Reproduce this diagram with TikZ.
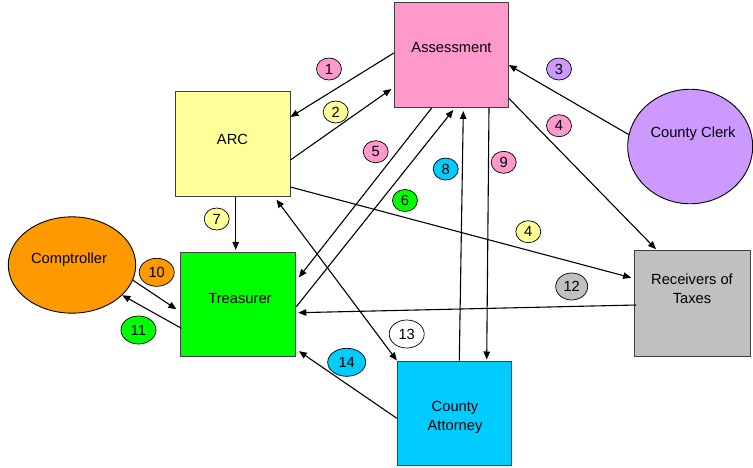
\documentclass[tikz,border=0pt]{standalone}
\usepackage{fontspec}
\setmainfont{Liberation Sans}
\usetikzlibrary{arrows.meta,shapes.geometric}
\definecolor{cpink}{HTML}{FF99CC}
\definecolor{cyellow}{HTML}{FFFF99}
\definecolor{cgreen}{HTML}{00FF00}
\definecolor{corange}{HTML}{FF9900}
\definecolor{ccyan}{HTML}{00CCFF}
\definecolor{cgray}{HTML}{C0C0C0}
\definecolor{cpurple}{HTML}{CC99FF}
\tikzset{
  txt/.style={font=\fontsize{14.7}{19}\selectfont},
  office/.style={draw=black!75, line width=0.9pt, rectangle, inner sep=0pt,
    minimum width=115pt, minimum height=105pt},
  party/.style={draw=black, line width=0.9pt, ellipse, inner sep=0pt},
  tag/.style={draw=black, line width=0.7pt, ellipse, inner sep=0pt,
    minimum width=25pt, minimum height=22pt, txt},
  wide/.style={minimum width=35pt, minimum height=28pt},
  flow/.style={line width=1.1pt, -{Triangle[length=8pt,width=6.5pt]}},
  both/.style={line width=1.1pt, {Triangle[length=8pt,width=6.5pt]}-{Triangle[length=8pt,width=6.5pt]}}
}
\begin{document}
\begin{tikzpicture}[x=1pt,y=-1pt]
\useasboundingbox (0,0) rectangle (753,467);

% offices
\node[office, fill=cpink, minimum width=114pt] (assess) at (451.3,55)
  {}; \node[txt] (assessT) at (451.5,48) {Assessment};
\node[office, fill=cyellow] (arc) at (232.5,144.2) {};
\node[txt] (arcT) at (232.5,139) {ARC};
\node[office, fill=cgreen, minimum width=115.7pt, minimum height=104.4pt] (treas) at (238,304.5) {};
\node[txt] (treasT) at (240,299) {Treasurer};
\node[office, fill=ccyan, minimum width=114pt, minimum height=104.7pt] (atty) at (454.3,413.3) {};
\node[txt, align=center] (attyT) at (455,417.5) {County\\Attorney};
\node[office, fill=cgray, minimum width=115.3pt, minimum height=105.3pt] (recv) at (692.3,303.3) {};
\node[txt, align=center] (recvT) at (692,288.5) {Receivers of\\Taxes};

% outside parties
\node[party, fill=corange, minimum width=127.4pt, minimum height=96.3pt] (comp) at (72,265) {};
\node[txt] (compT) at (69,260) {Comptroller};
\node[party, fill=cpurple, minimum width=125pt, minimum height=114.5pt] (clerk) at (690.2,146.5) {};
\node[txt] (clerkT) at (693,134) {County Clerk};

% flows
\draw[flow] ([yshift=2pt]assess.west) -- ([yshift=27.2pt]arc.east);
\draw[flow] ([yshift=-15.8pt]arc.east) -- ([xshift=-2.5pt,yshift=-34pt]assess.west);
\draw[flow] (clerk.169) -- ([yshift=-10pt]assess.east);
\draw[flow] ([yshift=-43.3pt]assess.east) -- ([xshift=-36.3pt,yshift=1pt]recv.north);
\draw[flow] ([yshift=-42.8pt]arc.east) -- ([xshift=-3pt,yshift=25.6pt]recv.west);
\draw[flow] ([xshift=2pt,yshift=-1.7pt]recv.west) -- ([xshift=2pt,yshift=-8.2pt]treas.east);
\draw[flow] ([xshift=-19.6pt]assess.south) -- ([xshift=2.6pt,yshift=27.2pt]treas.east);
\draw[flow] ([yshift=-2.2pt]treas.east) -- ([xshift=2pt,yshift=-2pt]assess.south);
\draw[flow] ([xshift=5pt]atty.north) -- ([xshift=12pt,yshift=-3pt]assess.south);
\draw[flow] ([xshift=37.7pt]assess.south) -- ([xshift=32.4pt,yshift=1pt]atty.north);
\draw[flow] ([xshift=3.2pt]arc.south) -- ([xshift=-2.3pt,yshift=2pt]treas.north);
\draw[flow] (comp.-14) -- ([xshift=-3.3pt,yshift=-4.8pt]treas.west);
\draw[flow] ([xshift=1.7pt,yshift=-23.8pt]treas.west) -- (comp.-31);
\draw[both] ([xshift=-14pt,yshift=-2.5pt]arc.south east) -- (atty.north west);
\draw[flow] ([yshift=-5pt]atty.west) -- ([xshift=2.6pt,yshift=6pt]treas.south east);

% step tags
\node[tag, fill=cpink] (t1) at (329,69) {1};
\node[tag, fill=cyellow] (t2) at (335.7,112) {2};
\node[tag, fill=cpurple] (t3) at (559,69) {3};
\node[tag, fill=cpink] (t4a) at (559,125.7) {4};
\node[tag, fill=cpink] (t5) at (375.7,151.7) {5};
\node[tag, fill=cgreen] (t6) at (405,200.5) {6};
\node[tag, fill=cyellow] (t7) at (216.7,219) {7};
\node[tag, fill=ccyan] (t8) at (445.7,169) {8};
\node[tag, fill=cpink] (t9) at (503.7,162.3) {9};
\node[tag, fill=cyellow] (t4b) at (528.3,231.7) {4};
\node[tag, wide, fill=corange] (t10) at (156.7,272.3) {10};
\node[tag, wide, fill=cgreen] (t11) at (138.5,330) {11};
\node[tag, fill=cgray, minimum width=32pt, minimum height=27pt] (t12) at (571.7,286.5) {12};
\node[tag, wide, fill=white] (t13) at (406.7,334) {13};
\node[tag, wide, fill=ccyan, minimum width=38pt] (t14) at (346.7,362.3) {14};
\end{tikzpicture}
\end{document}
